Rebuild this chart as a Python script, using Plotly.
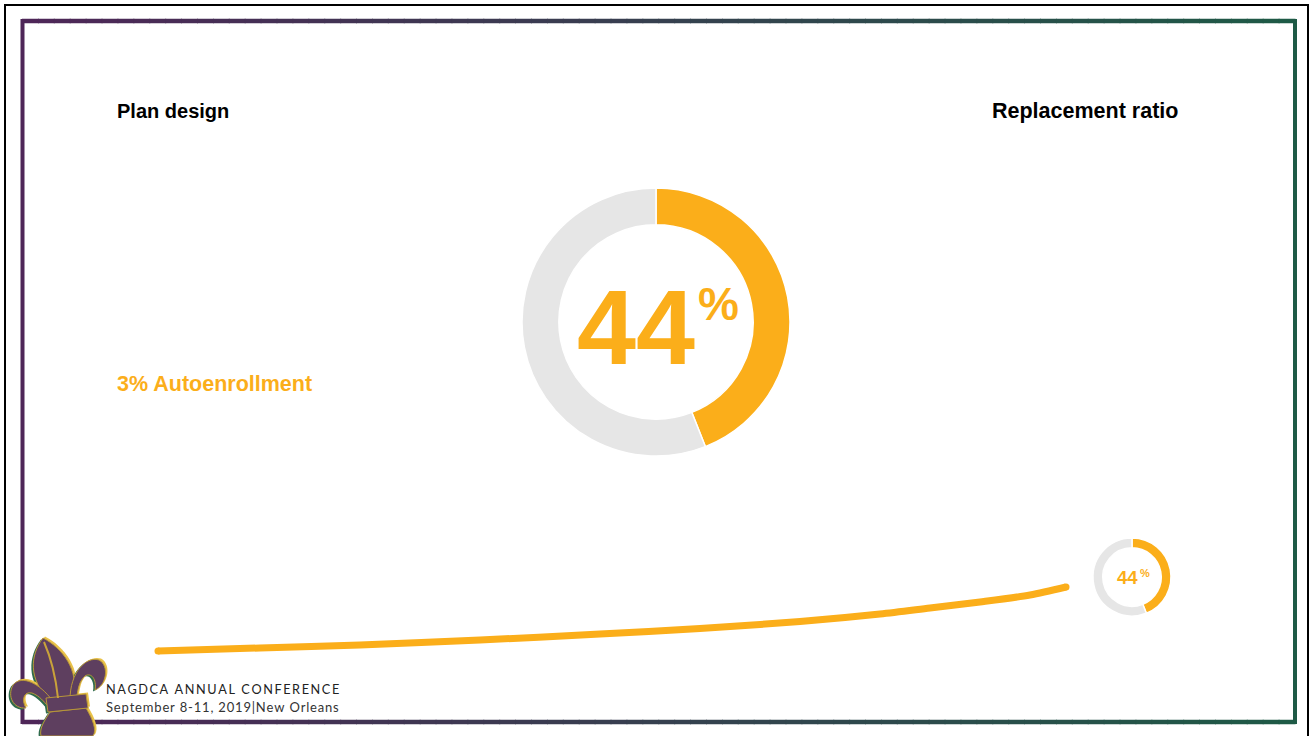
import plotly.graph_objects as go

# ---- data -------------------------------------------------------------
plan_design = "3% Autoenrollment"
replacement_ratio = 44          # percent of pre-retirement income
ratio_labels = ["Replaced", "Not replaced"]
ratio_values = [replacement_ratio, 100 - replacement_ratio]

# path of the connector line (pixel space, y grows downward)
curve_x = [158, 260, 360, 480, 600, 700, 800, 880, 930, 980, 1030, 1066]
curve_y = [651, 648, 645, 640, 634, 628.5, 621.5, 614, 608, 602, 595, 587]

# ---- styling ----------------------------------------------------------
W, H = 1312, 736
ORANGE = "#FBAE1A"
GREY = "#E6E6E6"
PURPLE = (78, 38, 88)
GREEN = (30, 90, 70)
BOLD = "Liberation Sans, Arial, sans-serif"
THIN = "Lato, 'Open Sans', sans-serif"


def mix(a, b, t):
    return "rgb({},{},{})".format(*[round(a[i] + (b[i] - a[i]) * t) for i in range(3)])


def track(s, gap="\u2009"):
    return gap.join(s)


fig = go.Figure()

# connector line
fig.add_trace(go.Scatter(
    x=curve_x, y=curve_y, mode="lines",
    line=dict(color=ORANGE, width=7, shape="spline", smoothing=0.8),
    hoverinfo="skip", showlegend=False))
fig.add_trace(go.Scatter(
    x=[curve_x[0], curve_x[-1]], y=[curve_y[0], curve_y[-1]], mode="markers",
    marker=dict(color=ORANGE, size=7), hoverinfo="skip", showlegend=False))


def donut(cx, cy, r, hole):
    return go.Pie(
        labels=ratio_labels, values=ratio_values, sort=False, direction="clockwise",
        rotation=0, hole=hole, textinfo="none", hoverinfo="label+percent",
        marker=dict(colors=[ORANGE, GREY], line=dict(color="white", width=1.5)),
        domain=dict(x=[(cx - r) / W, (cx + r) / W],
                    y=[(H - cy - r) / H, (H - cy + r) / H]),
        showlegend=False)


fig.add_trace(donut(656, 322, 134, 0.725))
fig.add_trace(donut(1132, 577, 39, 0.75))

shapes = []
# outer thin black frame
shapes.append(dict(type="rect", x0=5, y0=5, x1=1308, y1=760, xref="x", yref="y",
                   line=dict(color="black", width=2)))
# coloured frame with a left-to-right purple -> green blend
N = 80
x_left, x_right, y_top, y_bot = 22.5, 1295, 21, 722
for i in range(N):
    xa = x_left + (x_right - x_left) * i / N
    xb = x_left + (x_right - x_left) * (i + 1) / N
    c = mix(PURPLE, GREEN, (i + 0.5) / N)
    for yy in (y_top, y_bot):
        shapes.append(dict(type="line", x0=xa - 0.5, x1=xb + 0.5, y0=yy, y1=yy,
                           xref="x", yref="y", line=dict(color=c, width=4.5)))
shapes.append(dict(type="line", x0=x_left, x1=x_left, y0=y_top - 2, y1=y_bot + 2,
                   xref="x", yref="y", line=dict(color=mix(PURPLE, GREEN, 0), width=4)))
shapes.append(dict(type="line", x0=x_right, x1=x_right, y0=y_top - 2, y1=y_bot + 2,
                   xref="x", yref="y", line=dict(color=mix(PURPLE, GREEN, 1), width=4)))

# fleur-de-lis emblem
fleur = [
    # central petal
    "M 50 700 C 28 680, 30 655, 43 638 C 62 648, 80 670, 73 698 Z",
    # right petal
    "M 70 700 C 70 672, 86 656, 99 660 C 110 666, 106 686, 95 690 "
    "C 97 679, 91 672, 85 676 C 78 682, 78 692, 76 700 Z",
    # left petal
    "M 52 700 C 40 684, 22 674, 13 685 C 7 696, 13 709, 26 708 "
    "C 21 700, 24 691, 32 693 C 40 696, 44 702, 48 706 Z",
    # tassel
    "M 50 712 L 86 708 C 93 720, 97 730, 93 736 L 41 736 C 39 728, 45 720, 50 712 Z",
    # band
    "M 46 698 L 86 694 L 88 708 L 48 712 Z",
]


def shift(path, dx, dy):
    out = []
    k = 0
    for t in path.replace(",", " ").split():
        if t.isalpha():
            out.append(t)
        else:
            out.append(f"{float(t) + (dx if k % 2 == 0 else dy):g}")
            k += 1
    return " ".join(out)


for p in fleur:
    shapes.append(dict(type="path", path=shift(p, -2, 1.5), xref="x", yref="y",
                       fillcolor="#2F6B4C", line=dict(width=0)))
    shapes.append(dict(type="path", path=shift(p, 2, -1.5), xref="x", yref="y",
                       fillcolor="#E9C24A", line=dict(width=0)))
for p in fleur:
    shapes.append(dict(type="path", path=p, xref="x", yref="y",
                       fillcolor="#5E3F5F", line=dict(color="#B8963A", width=1)))
# gold vein through the central petal
shapes.append(dict(type="path", path="M 58 698 C 56 680, 52 660, 44 642",
                   xref="x", yref="y", line=dict(color="#C9A23A", width=2)))

fig.update_layout(shapes=shapes)

ann = []
ann.append(dict(text="<b>Plan design</b>", x=115, y=111, xanchor="left", yanchor="middle",
                font=dict(family=BOLD, size=20, color="black")))
ann.append(dict(text="<b>Replacement ratio</b>", x=990, y=111, xanchor="left", yanchor="middle",
                font=dict(family=BOLD, size=21.5, color="black")))
ann.append(dict(text=f"<b>{plan_design}</b>", x=115, y=384, xanchor="left", yanchor="middle",
                font=dict(family=BOLD, size=21.5, color=ORANGE)))
# big donut centre value
ann.append(dict(text=f"<b>{replacement_ratio}</b>", x=697, y=327, xanchor="right",
                yanchor="middle", font=dict(family=BOLD, size=106, color=ORANGE)))
ann.append(dict(text="<b>%</b>", x=696, y=304, xanchor="left", yanchor="middle",
                font=dict(family=BOLD, size=46, color=ORANGE)))
# small donut centre value
ann.append(dict(text=f"<b>{replacement_ratio}</b>", x=1140, y=577.5, xanchor="right",
                yanchor="middle", font=dict(family=BOLD, size=18.5, color=ORANGE)))
ann.append(dict(text="<b>%</b>", x=1138, y=572.5, xanchor="left", yanchor="middle",
                font=dict(family=BOLD, size=11, color=ORANGE)))
# footer
ann.append(dict(text=track("NAGDCA ANNUAL CONFERENCE"), x=104, y=689, xanchor="left",
                yanchor="middle", font=dict(family=THIN, size=12.7, color="#222222")))
ann.append(dict(text=track("September 8-11, 2019|New Orleans", "\u200a"), x=104, y=707,
                xanchor="left", yanchor="middle", font=dict(family=THIN, size=13, color="#333333")))
for a in ann:
    a.update(xref="x", yref="y", showarrow=False)
fig.update_layout(annotations=ann)

fig.update_layout(
    width=W, height=H, margin=dict(l=0, r=0, t=0, b=0),
    paper_bgcolor="white", plot_bgcolor="rgba(0,0,0,0)",
    xaxis=dict(range=[0, W], visible=False, fixedrange=True),
    yaxis=dict(range=[H, 0], visible=False, fixedrange=True),
    showlegend=False,
)

fig.write_html("out.html", config={"displayModeBar": False})
